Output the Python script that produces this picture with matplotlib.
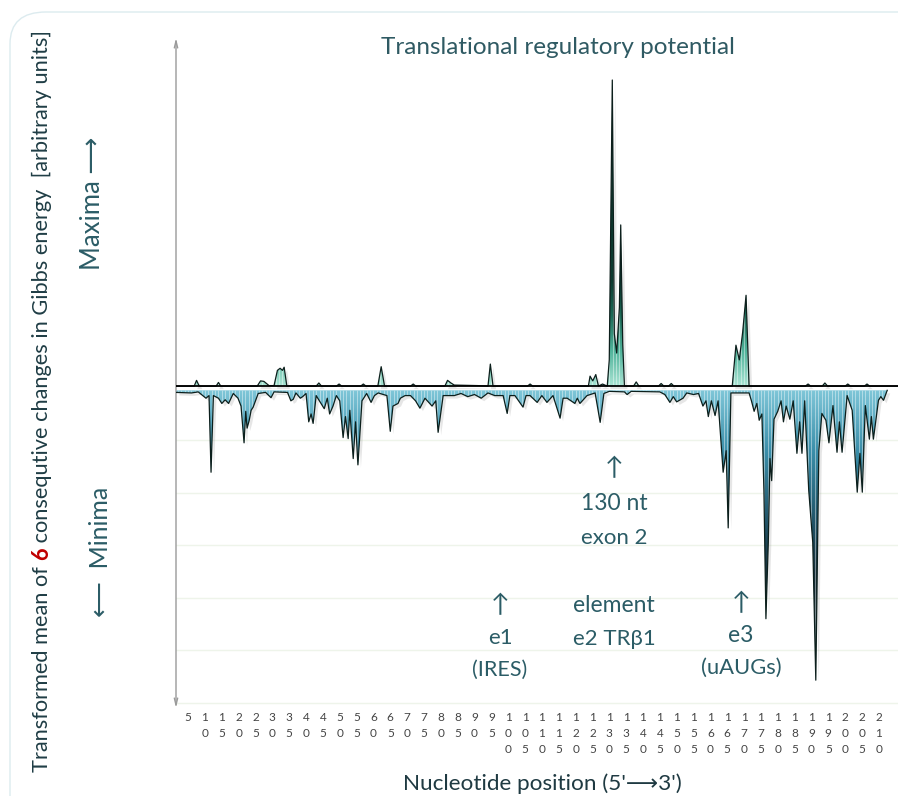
import matplotlib
matplotlib.use("Agg")
import matplotlib.pyplot as plt
import matplotlib.transforms as mtrans
from matplotlib.colors import LinearSegmentedColormap
from matplotlib.patches import FancyBboxPatch
import numpy as np

plt.rcParams["font.family"] = ["Lato", "DejaVu Sans"]

# ── data (nucleotide position, transformed value) ─────────────────────────────
max_pos = [1.5, 6.8, 7.5, 8.3, 13.3, 14, 14.7, 25.5, 26.5, 27.5, 29, 30.5, 31.5,
           32.3, 33, 33.5, 34.3, 43, 43.8, 44.6, 49, 49.8, 50.6, 56.2, 57, 57.8,
           61.3, 62.3, 63.3, 71, 71.8, 72.6, 81.2, 82, 83, 84, 91, 94, 94.7, 95.5,
           105.7, 106.5, 107.3, 123.8, 124.3, 125.1, 126, 126.8, 128, 129.4, 130,
           130.9, 131.5, 132.2, 133, 133.4, 134, 134.5, 137.2, 138, 138.8, 144.6,
           145.4, 146.2, 147.6, 148.4, 149.2, 166.5, 167.6, 168.6, 169.6, 170.6,
           171.5, 188.2, 189, 189.8, 193.2, 194, 194.8, 200, 200.8, 201.6, 205.7,
           206.5, 207.3, 215.7]
max_val = [0.00, 0.00, 0.11, 0.00, 0.00, 0.07, 0.00, 0.00, 0.10, 0.09, 0.01, 0.01,
           0.30, 0.34, 0.30, 0.36, 0.00, 0.00, 0.06, 0.00, 0.00, 0.04, 0.00, 0.00,
           0.04, 0.00, 0.00, 0.37, 0.00, 0.00, 0.04, 0.00, 0.00, 0.11, 0.06, 0.02,
           0.01, 0.00, 0.42, 0.00, 0.00, 0.04, 0.00, 0.00, 0.19, 0.10, 0.22, 0.00,
           0.04, 0.00, 0.50, 5.83, 1.00, 0.63, 1.50, 3.07, 0.80, 0.00, 0.00, 0.08,
           0.00, 0.00, 0.05, 0.00, 0.00, 0.05, 0.00, 0.00, 0.78, 0.50, 1.03, 1.73,
           0.00, 0.00, 0.04, 0.00, 0.00, 0.06, 0.00, 0.00, 0.04, 0.00, 0.00, 0.04,
           0.00, 0.0]

min_pos = [1.5, 6, 8, 10.3, 11.2, 11.8, 12.5, 14, 15, 16, 17, 18.4, 19.8, 20.7,
           21.6, 22.1, 22.5, 23.1, 23.7, 24.3, 25.8, 28, 29.6, 30.5, 34.5, 35.5,
           36.2, 37, 38.3, 39, 40, 40.8, 41.5, 42.1, 43, 45.4, 46.3, 47, 48, 49,
           50, 51, 51.7, 52.5, 53, 54, 54.7, 55.4, 56.6, 58, 59.3, 60.3, 61.4, 64,
           65, 65.8, 67.3, 68, 69.4, 71, 72.5, 73.8, 75.3, 77.4, 78.5, 79.2, 80.7,
           84, 86, 88, 90, 92, 94, 96, 98.5, 99.7, 100.5, 102, 104.4, 105.3, 106.5,
           108.6, 110, 111.5, 113.3, 115.4, 116.3, 117.5, 119.8, 120.5, 121.3,
           123.4, 125.8, 127.3, 128.4, 130, 134.5, 135.3, 136.5, 145, 146.5, 148,
           149, 150, 151.9, 153, 155, 156.5, 157.8, 158.7, 159.4, 160.3, 161.4,
           162.3, 163.8, 164.7, 165.3, 166.1, 171.5, 172.2, 173, 173.8, 174.5,
           175.3, 175.9, 176.5, 177.2, 177.7, 178.2, 178.9, 180, 181, 181.7, 182.5,
           183.6, 184.6, 185.7, 186.5, 187.2, 188, 189.2, 190.4, 191.3, 192.2,
           193.1, 194.3, 195.2, 196.4, 197.6, 198.3, 199.1, 200.6, 202.1, 203.6,
           204.4, 205.1, 206, 207.2, 207.8, 208.4, 209.9, 210.6, 211.4, 212.5]
min_val = [0.04, 0.05, 0.03, 0.15, 0.10, 1.56, 0.10, 0.15, 0.25, 0.18, 0.25, 0.06,
           0.15, 0.30, 1.00, 0.40, 0.72, 0.58, 0.38, 0.32, 0.06, 0.04, 0.14, 0.03,
           0.04, 0.20, 0.17, 0.05, 0.15, 0.12, 0.06, 0.60, 0.45, 0.63, 0.10, 0.35,
           0.15, 0.45, 0.30, 0.10, 0.20, 0.90, 0.50, 0.92, 0.38, 1.30, 0.60, 1.42,
           0.20, 0.06, 0.23, 0.10, 0.05, 0.10, 0.78, 0.30, 0.25, 0.15, 0.10, 0.10,
           0.20, 0.34, 0.15, 0.30, 0.20, 0.80, 0.10, 0.10, 0.06, 0.12, 0.08, 0.15,
           0.05, 0.10, 0.10, 0.44, 0.10, 0.10, 0.32, 0.10, 0.10, 0.23, 0.10, 0.23,
           0.10, 0.53, 0.15, 0.15, 0.25, 0.15, 0.25, 0.10, 0.05, 0.61, 0.06, 0.02,
           0.03, 0.08, 0.02, 0.03, 0.08, 0.23, 0.12, 0.22, 0.15, 0.05, 0.08, 0.06,
           0.30, 0.20, 0.50, 0.20, 0.48, 0.20, 1.56, 1.15, 2.62, 0.05, 0.05, 0.20,
           0.40, 0.25, 0.57, 0.45, 1.90, 4.35, 2.90, 1.30, 1.72, 0.55, 0.40, 0.20,
           0.60, 0.30, 0.55, 0.20, 1.20, 0.60, 1.20, 0.20, 1.90, 2.90, 5.52, 1.15,
           0.44, 0.57, 1.00, 0.29, 1.18, 0.60, 1.18, 0.10, 0.38, 1.94, 1.20, 1.94,
           0.29, 0.93, 0.50, 0.93, 0.19, 0.12, 0.19, 0.0]

tick_pos = list(range(5, 215, 5))
grid_levels = [-1, -2, -3, -4, -5, -6]

MAX_BASE = 0.03
MIN_BASE = -0.05
TEXT = "#2b5c66"


def shaded_area(ax, x, y, base, cmap, span):
    """Area between base and y: vertical gradient, light stripes, soft shadow."""
    off = mtrans.offset_copy(ax.transData, fig=ax.figure, x=2.5, y=-2.5, units="dots")
    ax.fill_between(x, base, y, color="#777777", alpha=0.18, lw=0,
                    transform=off, zorder=1)
    poly = ax.fill_between(x, base, y, facecolor="none", edgecolor="none", zorder=2)
    path = poly.get_paths()[0]
    lo, hi = (base, 7.0) if span > 0 else (-7.0, base)
    yy = np.linspace(lo, hi, 600)
    grad = np.clip((yy - base) / span, 0, 1).reshape(-1, 1)
    im = ax.imshow(grad, extent=[x[0], x[-1], lo, hi], origin="lower",
                   aspect="auto", cmap=cmap, vmin=0, vmax=1, zorder=2,
                   interpolation="bilinear")
    im.set_clip_path(path, ax.transData)
    stripes = np.arange(int(x[0]) + 1, int(x[-1]) + 1)
    vl = ax.vlines(stripes, lo, hi, color="white", lw=0.6, alpha=0.5, zorder=3)
    vl.set_clip_path(path, ax.transData)
    ax.plot(x, y, color="#0c1f1c", lw=0.9, zorder=4)


fig = plt.figure(figsize=(8.98, 7.96), dpi=100)
fig.patches.append(FancyBboxPatch((10 / 898, -0.05), 1.2, 1 - 12 / 796 + 0.05,
                                  boxstyle="round,pad=0,rounding_size=0.04",
                                  transform=fig.transFigure, fill=False,
                                  edgecolor="#dcebef", lw=1.0))

ax = fig.add_axes([176 / 898, 1 - 708 / 796, 722 / 898, 670 / 796])

for g in grid_levels:
    ax.axhline(g, color="#eef4ea", lw=1.0, zorder=0)

max_cmap = LinearSegmentedColormap.from_list("mx", ["#a9e3d3", "#4fb39a", "#1d6b58", "#0e3a30"])
min_cmap = LinearSegmentedColormap.from_list("mn", ["#7fc6d8", "#3a8ea9", "#245b70", "#152f3a"])

mx = np.array(max_pos)
shaded_area(ax, mx, MAX_BASE + np.array(max_val), MAX_BASE, max_cmap, 2.0)
mn = np.array(min_pos)
shaded_area(ax, mn, MIN_BASE - np.array(min_val), MIN_BASE, min_cmap, -3.5)

ax.axhline(MAX_BASE, color="black", lw=1.3, zorder=5)

ax.set_xlim(1.4, 215.7)
ax.set_ylim(-6.1, 6.66)
for s in ax.spines.values():
    s.set_visible(False)
ax.set_yticks([])
ax.set_xticks(tick_pos)
ax.set_xticklabels(["\n".join(str(t)) for t in tick_pos], fontsize=8.5,
                   linespacing=1.55, color="#444444")
ax.tick_params(axis="x", length=0, pad=3)

ax.annotate("", xy=(0, 1), xytext=(0, 0), xycoords="axes fraction",
            arrowprops=dict(arrowstyle="<->,head_length=0.5,head_width=0.12",
                            color="#9a9a9a", lw=1.0, shrinkA=0, shrinkB=0))

# title / axis texts
fig.text(558 / 898, 1 - 48 / 796, "Translational regulatory potential",
         ha="center", va="center", fontsize=17.5, color="#2f5a63")
fig.text(542 / 898, 1 - 784 / 796, "Nucleotide position (5'\u27f63')",
         ha="center", va="center", fontsize=16.2, color="#1f3a42")
fig.text(93 / 898, 1 - 203 / 796, "Maxima \u27f6", rotation=90,
         ha="center", va="center", fontsize=18.5, color=TEXT)
fig.text(100 / 898, 1 - 552 / 796, "\u27f5  Minima", rotation=90,
         ha="center", va="center", fontsize=18, color=TEXT)

# y label with a bold red "6"
renderer = fig.canvas.get_renderer()
pieces = [("Transformed mean of ", dict(color="#1f3d45")),
          ("6", dict(color="#c00000", fontweight="bold")),
          (" consequtive changes in Gibbs energy  [arbitrary units]", dict(color="#1f3d45"))]
ypos = 1 - 772 / 796
for txt, kw in pieces:
    t = fig.text(42 / 898, ypos, txt, rotation=90, rotation_mode="anchor",
                 ha="left", va="center", fontsize=15.7, **kw)
    ypos += t.get_window_extent(renderer).height / fig.bbox.height

# feature annotations (nucleotide, value)
notes = [
    (131.4, -1.52, "\u2191", 18),
    (131.4, -2.20, "130 nt", 16.5),
    (131.4, -2.86, "exon 2", 16),
    (131.4, -4.14, "element", 16.5),
    (131.4, -4.79, "e2 TR\u03b21", 16),
    (97.6, -4.14, "\u2191", 18),
    (97.6, -4.77, "e1", 16),
    (97.6, -5.38, "(IRES)", 15.5),
    (169.1, -4.10, "\u2191", 18),
    (169.1, -4.71, "e3", 16.5),
    (169.1, -5.34, "(uAUGs)", 15.8),
]
for nx, ny, txt, fs in notes:
    ax.text(nx, ny, txt, ha="center", va="center", fontsize=fs, color=TEXT, zorder=6)

fig.savefig("out.png", dpi=100)
